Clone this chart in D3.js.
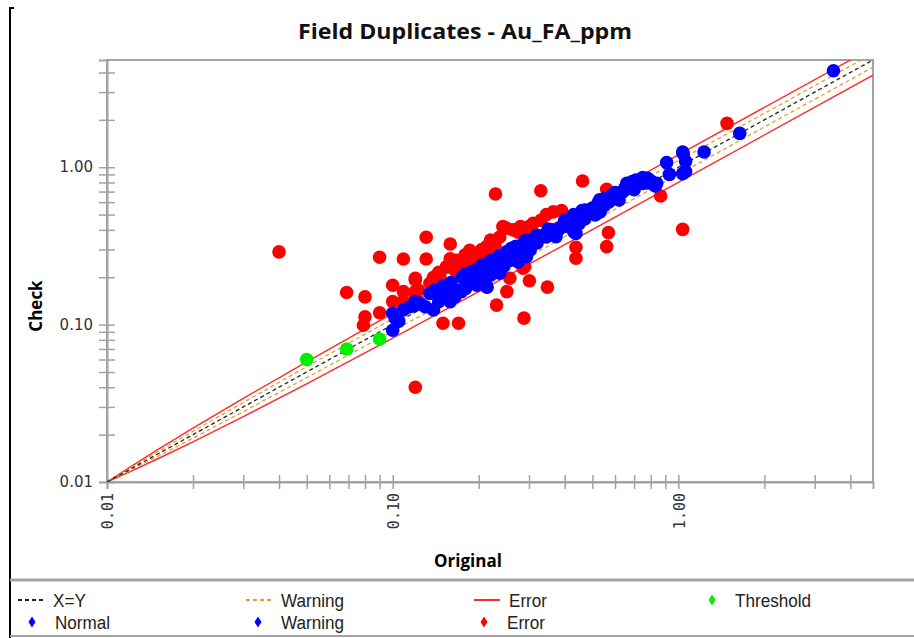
<!DOCTYPE html>
<html>
<head>
<meta charset="utf-8">
<script src="https://cdn.jsdelivr.net/npm/d3@7/dist/d3.min.js"></script>
<style>
  body { margin: 0; background: #fff; }
</style>
</head>
<body>
<svg id="chart" width="914" height="638"></svg>
<script>
// axis ticks (log scale, labels only on the decades)
const tickValues = [0.01, 0.02, 0.03, 0.04, 0.05, 0.06, 0.07, 0.08, 0.09,
                    0.1, 0.2, 0.3, 0.4, 0.5, 0.6, 0.7, 0.8, 0.9, 1, 2, 3, 4];
const tickLabels = [0.01, 0.1, 1];

// reference lines
const lineX      = [0.01, 0.012, 0.015, 0.02, 0.03, 0.05, 0.1, 0.2, 0.5, 1, 4.8];
const warnUpper  = [0.01, 0.0122, 0.0155, 0.021, 0.032, 0.054, 0.109, 0.219, 0.549, 1.099, 5.279];
const warnLower  = [0.01, 0.0118, 0.0145, 0.019, 0.028, 0.046, 0.091, 0.181, 0.451, 0.901, 4.321];
const errUpper   = [0.01, 0.0124, 0.016, 0.022, 0.034, 0.058, 0.118, 0.238, 0.598, 1.198, 5.758];
const errLower   = [0.01, 0.0116, 0.014, 0.018, 0.026, 0.042, 0.082, 0.162, 0.402, 0.802, 3.842];

// samples: [original, check]
const thresholdPts = [[0.05, 0.060], [0.069, 0.070], [0.09, 0.081]];

const errorPts = [
  [0.040, 0.290], [0.090, 0.268], [0.109, 0.261], [0.131, 0.261], [0.131, 0.359],
  [0.159, 0.325], [0.159, 0.251], [0.179, 0.277], [0.229, 0.676], [1.48, 1.90],
  [0.462, 0.817], [0.330, 0.709], [0.561, 0.724], [0.867, 0.656], [1.035, 0.403],
  [0.569, 0.384], [0.561, 0.313], [0.438, 0.310], [0.438, 0.264], [0.290, 0.233],
  [0.348, 0.173], [0.301, 0.190], [0.286, 0.228], [0.231, 0.133], [0.288, 0.110],
  [0.251, 0.162], [0.257, 0.197], [0.150, 0.102], [0.170, 0.102], [0.080, 0.150],
  [0.080, 0.112], [0.079, 0.099], [0.090, 0.119], [0.100, 0.178], [0.100, 0.140],
  [0.109, 0.162], [0.109, 0.140], [0.120, 0.197], [0.140, 0.197], [0.120, 0.150],
  [0.069, 0.160], [0.120, 0.040], [0.139, 0.200], [0.120, 0.162], [0.120, 0.192],
  [0.154, 0.232], [0.167, 0.256], [0.181, 0.270], [0.197, 0.284], [0.213, 0.313],
  [0.224, 0.340], [0.237, 0.360], [0.250, 0.410], [0.264, 0.400], [0.300, 0.420],
  [0.330, 0.460], [0.345, 0.500], [0.365, 0.520], [0.390, 0.530], [0.310, 0.440],
  [0.159, 0.262], [0.146, 0.200], [0.135, 0.183], [0.123, 0.166], [0.186, 0.297],
  [0.220, 0.345], [0.243, 0.420], [0.280, 0.420], [0.205, 0.300], [0.190, 0.260],
  [0.175, 0.245], [0.165, 0.225], [0.145, 0.215], [0.187, 0.250], [0.202, 0.273],
  [0.216, 0.298], [0.228, 0.320], [0.275, 0.387], [0.290, 0.411], [0.165, 0.222],
  [0.146, 0.206]
];

const normalPts = [
  [0.100, 0.092], [0.172, 0.166], [0.174, 0.162], [0.186, 0.183], [0.197, 0.178],
  [0.202, 0.200], [0.220, 0.206], [0.257, 0.256], [0.272, 0.297], [0.294, 0.270],
  [0.345, 0.380], [0.373, 0.362], [0.405, 0.440], [0.445, 0.484], [0.490, 0.530],
  [0.590, 0.650], [0.752, 0.790], [0.620, 0.620], [0.840, 0.790], [0.930, 0.900],
  [1.640, 1.640], [1.230, 1.250], [1.060, 1.090], [0.830, 0.760], [0.610, 0.650],
  [0.520, 0.510], [0.460, 0.530], [0.450, 0.440], [0.430, 0.390], [0.410, 0.450],
  [0.345, 0.360], [0.330, 0.360], [0.279, 0.297], [0.250, 0.270], [0.105, 0.105],
  [0.150, 0.150], [0.180, 0.170], [0.190, 0.190], [0.205, 0.185], [0.225, 0.215],
  [0.230, 0.230], [0.245, 0.235], [0.265, 0.270], [0.280, 0.270], [0.300, 0.300],
  [0.320, 0.330], [0.380, 0.400], [0.400, 0.420], [0.470, 0.470], [0.550, 0.570],
  [0.570, 0.600], [0.720, 0.780], [0.200, 0.220], [0.102, 0.110], [0.150, 0.148],
  [0.165, 0.161], [0.197, 0.184], [0.210, 0.204], [0.230, 0.229], [0.247, 0.250],
  [0.262, 0.298], [0.303, 0.298], [0.275, 0.250], [0.417, 0.462], [0.471, 0.535],
  [0.532, 0.519], [0.511, 0.497], [0.783, 0.794], [0.187, 0.207], [0.219, 0.250],
  [0.800, 0.820], [0.700, 0.720], [0.480, 0.500], [0.580, 0.620]
];

const warningPts = [
  [0.100, 0.118], [0.109, 0.124], [0.122, 0.136], [0.125, 0.136], [0.139, 0.124],
  [0.159, 0.140], [0.135, 0.158], [0.143, 0.158], [0.213, 0.174], [0.237, 0.212],
  [0.309, 0.345], [0.438, 0.380], [0.529, 0.590], [0.660, 0.790], [0.710, 0.830],
  [0.910, 1.070], [1.040, 1.220], [1.060, 0.940], [3.490, 4.100], [1.035, 1.250],
  [1.035, 0.910], [0.690, 0.810], [0.530, 0.620], [0.294, 0.345], [0.260, 0.300],
  [0.115, 0.130], [0.130, 0.130], [0.145, 0.140], [0.155, 0.165], [0.165, 0.150],
  [0.210, 0.220], [0.240, 0.250], [0.360, 0.400], [0.500, 0.550], [0.640, 0.700],
  [0.680, 0.750], [0.780, 0.850], [0.120, 0.133], [0.214, 0.173], [0.279, 0.316],
  [0.298, 0.345], [0.315, 0.355], [0.341, 0.371], [0.361, 0.387], [0.385, 0.411],
  [0.523, 0.593], [0.586, 0.666], [0.667, 0.771], [0.734, 0.830],
  [0.160, 0.185], [0.175, 0.200], [0.190, 0.218], [0.205, 0.238], [0.220, 0.255],
  [0.235, 0.272], [0.250, 0.290], [0.270, 0.315], [0.290, 0.338], [0.320, 0.370],
  [0.350, 0.405], [0.400, 0.460], [0.430, 0.500], [0.200, 0.228], [0.180, 0.210],
  [0.260, 0.305], [0.140, 0.165], [0.150, 0.175], [0.120, 0.140], [0.550, 0.630],
  [0.600, 0.690], [0.650, 0.740], [0.750, 0.860]
];

const svg = d3.select("#chart");
const plot = { left: 107, right: 873, top: 60, bottom: 482 };

const x = d3.scaleLog().domain([0.01, 4.8]).range([plot.left, plot.right]);
const y = d3.scaleLog().domain([0.01, 4.8]).range([plot.bottom, plot.top]);
const fmt = d3.format(".2f");
const axisGrey = "#a3a3a3";

// left black frame edge
svg.append("path")
    .attr("d", "M14,8 H10 V638")
    .attr("fill", "none")
    .attr("stroke", "#000")
    .attr("stroke-width", 2);

// title
svg.append("text")
    .attr("x", 465)
    .attr("y", 39)
    .attr("text-anchor", "middle")
    .attr("textLength", 334)
    .attr("lengthAdjust", "spacingAndGlyphs")
    .style("font-family", "'Open Sans', sans-serif")
    .style("font-weight", "bold")
    .style("font-size", "21px")
    .style("fill", "#111")
    .text("Field Duplicates - Au_FA_ppm");

svg.append("defs").append("clipPath")
    .attr("id", "clip")
    .append("rect")
    .attr("x", plot.left)
    .attr("y", plot.top)
    .attr("width", plot.right - plot.left)
    .attr("height", plot.bottom - plot.top);

// frame
svg.append("rect")
    .attr("x", plot.left)
    .attr("y", plot.top)
    .attr("width", plot.right - plot.left)
    .attr("height", plot.bottom - plot.top)
    .attr("fill", "none")
    .attr("stroke", axisGrey)
    .attr("stroke-width", 2);

//x axis, ticks cross the line
const xAxis = svg.append("g")
    .attr("transform", `translate(0,${plot.bottom})`)
    .call(d3.axisBottom(x).tickValues(tickValues).tickSize(7).tickFormat(""));
xAxis.select(".domain").attr("stroke", axisGrey).attr("stroke-width", 2);
xAxis.selectAll(".tick line")
    .attr("y1", -7).attr("y2", 7)
    .attr("stroke", axisGrey).attr("stroke-width", 1.5);

svg.append("g")
    .selectAll("text")
    .data(tickLabels)
    .join("text")
    .attr("transform", d => `translate(${x(d) + 1},${plot.bottom + 11}) rotate(-90)`)
    .attr("dy", "0.35em")
    .attr("text-anchor", "end")
    .style("font-family", "'DejaVu Sans Mono', monospace")
    .style("font-size", "15px")
    .style("fill", "#333")
    .text(d => fmt(d));

//y axis
const yAxis = svg.append("g")
    .attr("transform", `translate(${plot.left},0)`)
    .call(d3.axisLeft(y).tickValues(tickValues).tickSize(8).tickFormat(""));
yAxis.select(".domain").attr("stroke", axisGrey).attr("stroke-width", 2);
yAxis.selectAll(".tick line")
    .attr("x1", -8).attr("x2", 8)
    .attr("stroke", axisGrey).attr("stroke-width", 1.5);

svg.append("g")
    .selectAll("text")
    .data(tickLabels)
    .join("text")
    .attr("x", plot.left - 14)
    .attr("y", d => y(d))
    .attr("dy", "0.35em")
    .attr("text-anchor", "end")
    .style("font-family", "'DejaVu Sans', sans-serif")
    .style("font-size", "15px")
    .style("fill", "#333")
    .text(d => fmt(d));

// axis titles
svg.append("text")
    .attr("x", 468)
    .attr("y", 567)
    .attr("text-anchor", "middle")
    .style("font-family", "'Open Sans', sans-serif")
    .style("font-weight", "bold")
    .style("font-size", "17px")
    .text("Original");

svg.append("text")
    .attr("transform", "translate(36,306) rotate(-90)")
    .attr("dy", "0.35em")
    .attr("text-anchor", "middle")
    .style("font-family", "'Open Sans', sans-serif")
    .style("font-weight", "bold")
    .style("font-size", "17px")
    .text("Check");

// reference lines
const lines = [
    { vals: errUpper,  color: "#ff2a2a", dash: null,  w: 1.4 },
    { vals: errLower,  color: "#ff2a2a", dash: null,  w: 1.4 },
    { vals: warnUpper, color: "#e0a030", dash: "4,3", w: 1.3 },
    { vals: warnLower, color: "#e0a030", dash: "4,3", w: 1.3 },
    { vals: lineX,     color: "#222",    dash: "4,3", w: 1.3 }
];
const lineGen = d3.line().x(d => x(d[0])).y(d => y(d[1]));
svg.append("g")
    .attr("clip-path", "url(#clip)")
    .selectAll("path")
    .data(lines)
    .join("path")
    .attr("d", l => lineGen(lineX.map((v, i) => [v, l.vals[i]])))
    .attr("fill", "none")
    .attr("stroke", l => l.color)
    .attr("stroke-width", l => l.w)
    .attr("stroke-dasharray", l => l.dash);

// points
const series = [
    { pts: thresholdPts, color: "#00ee00" },
    { pts: errorPts,     color: "#ff0000" },
    { pts: normalPts,    color: "#0000ff" },
    { pts: warningPts,   color: "#0000ff" }
];
const pointsG = svg.append("g").attr("clip-path", "url(#clip)");
series.forEach(s => {
    pointsG.append("g")
        .selectAll("circle")
        .data(s.pts)
        .join("circle")
        .attr("cx", d => x(d[0]))
        .attr("cy", d => y(d[1]))
        .attr("r", 6.8)
        .attr("fill", s.color);
});

// legend
svg.append("line")
    .attr("x1", 10).attr("x2", 914)
    .attr("y1", 580).attr("y2", 580)
    .attr("stroke", axisGrey).attr("stroke-width", 3);
svg.append("line")
    .attr("x1", 10).attr("x2", 914)
    .attr("y1", 636).attr("y2", 636)
    .attr("stroke", axisGrey).attr("stroke-width", 2);

const legendLines = [
    { label: "X=Y",     color: "#222",    dash: "4,3", x: 18 },
    { label: "Warning", color: "#e0a030", dash: "4,3", x: 246 },
    { label: "Error",   color: "#ff2a2a", dash: null,  x: 474 }
];
const legendDots = [
    { label: "Threshold", color: "#00ee00", x: 712, y: 600 },
    { label: "Normal",    color: "#0000ff", x: 32,  y: 622 },
    { label: "Warning",   color: "#0000ff", x: 258, y: 622 },
    { label: "Error",     color: "#ff0000", x: 484, y: 622 }
];

function legendText(tx, ty, label) {
    svg.append("text")
        .attr("transform", `translate(${tx},${ty}) scale(0.9,1)`)
        .attr("dy", "0.35em")
        .style("font-family", "'Liberation Sans', sans-serif")
        .style("font-size", "19px")
        .style("fill", "#222")
        .text(label);
}

legendLines.forEach(d => {
    svg.append("line")
        .attr("x1", d.x).attr("x2", d.x + 26)
        .attr("y1", 600).attr("y2", 600)
        .attr("stroke", d.color)
        .attr("stroke-width", 2)
        .attr("stroke-dasharray", d.dash);
    legendText(d.x + 35, 600, d.label);
});

legendDots.forEach(d => {
    svg.append("path")
        .attr("d", "M0,-5.5L3.5,0L0,5.5L-3.5,0Z")
        .attr("transform", `translate(${d.x},${d.y})`)
        .attr("fill", d.color);
    legendText(d.x + 23, d.y, d.label);
});
</script>
</body>
</html>
